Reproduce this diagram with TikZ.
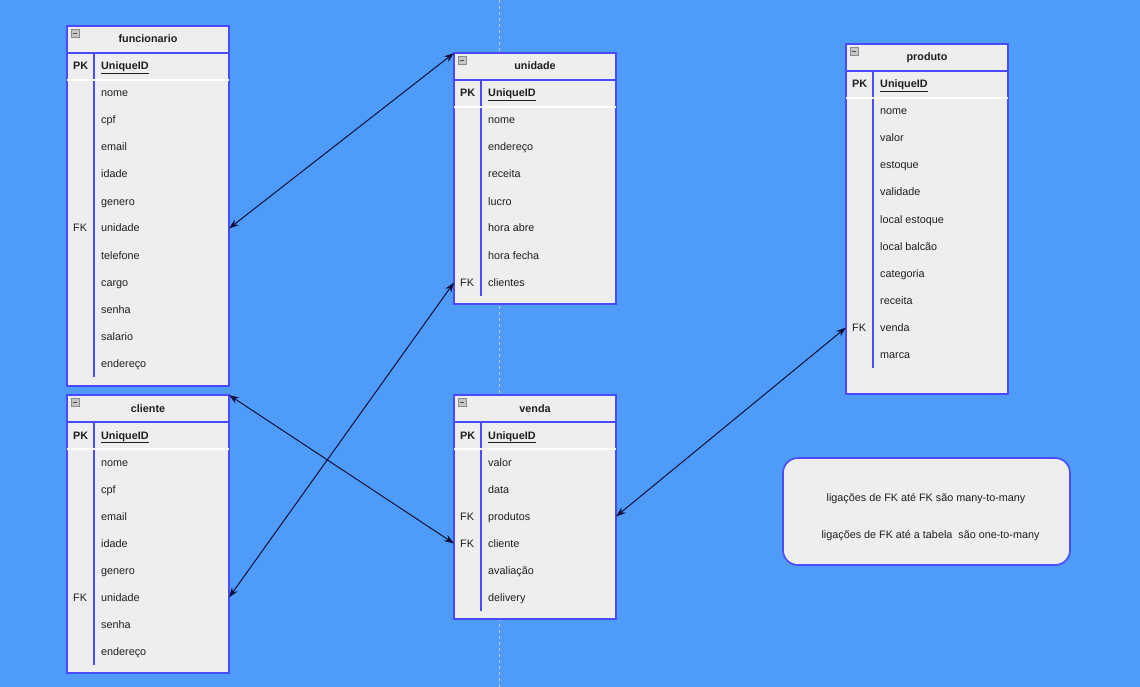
\documentclass[tikz,border=0pt]{standalone}
\usepackage{fontspec}
\setmainfont{Liberation Sans}
\usetikzlibrary{arrows.meta}

\definecolor{canvas}{RGB}{79,155,248}
\definecolor{tablefill}{RGB}{238,238,238}
\definecolor{tableedge}{RGB}{74,74,255}
\definecolor{ink}{RGB}{30,30,30}
\definecolor{linkcol}{RGB}{14,16,60}
\definecolor{guide}{RGB}{185,200,228}

\tikzset{
  tablebox/.style={draw=tableedge, fill=tablefill, line width=1.6pt,
    minimum width=162pt, inner sep=0pt, outer sep=0pt},
  tableline/.style={draw=tableedge, line width=1.5pt},
  sepline/.style={draw=white, line width=1.6pt},
  celltext/.style={inner sep=0pt, text height=9pt, text depth=2pt, text=ink,
    font=\fontsize{10.8}{13}\selectfont},
  titletext/.style={celltext, font=\fontsize{10.8}{13}\selectfont\bfseries},
  link/.style={draw=linkcol, line width=1pt,
    {Stealth[length=10pt,width=7pt]}-{Stealth[length=10pt,width=7pt]}},
  notebox/.style={draw=tableedge, fill=tablefill, line width=1.6pt,
    rounded corners=15pt, minimum width=287pt, minimum height=107pt,
    inner sep=0pt, outer sep=0pt},
}

% ER table: #1 id, #2 left, #3 top, #4 height, #5 title, #6 key/field rows
\newcommand\erTable[6]{%
  \node[tablebox, minimum height=#4pt, anchor=north west] (#1) at (#2,#3) {};
  \draw[draw=gray!90, fill=gray!45, line width=0.8pt]
    ({#2+4},{#3+3.5}) rectangle ({#2+12},{#3+11});
  \draw[ink!80, line width=1pt] ({#2+5.8},{#3+7.3}) -- ({#2+10.2},{#3+7.3});
  \node[titletext] (#1-title) at ({#2+81},{#3+13.5}) {#5};
  \draw[tableline] ({#2},{#3+27}) -- ({#2+162},{#3+27});
  % primary key row
  \node[titletext, anchor=west] (#1-k0) at ({#2+6},{#3+40.5}) {PK};
  \node[titletext, anchor=west] (#1-f0) at ({#2+34},{#3+40.5}) {\underline{UniqueID}};
  \coordinate (#1-w0) at ({#2},{#3+40.5});
  \coordinate (#1-e0) at ({#2+162},{#3+40.5});
  \draw[tableline] ({#2+27},{#3+27}) -- ({#2+27},{#3+54});
  % attribute rows
  \foreach[count=\i] \k/\v in {#6} {
    \pgfmathsetmacro\yc{#3+40.5+27*\i}
    \node[celltext, anchor=west] (#1-k\i) at ({#2+6},\yc) {\k};
    \node[celltext, anchor=west] (#1-f\i) at ({#2+34},\yc) {\v};
    \coordinate (#1-w\i) at ({#2},\yc);
    \coordinate (#1-e\i) at ({#2+162},\yc);
    \draw[tableline] ({#2+27},{\yc-13.5}) -- ({#2+27},{\yc+13.5});
  }
  \draw[sepline] ({#2},{#3+54}) -- ({#2+162},{#3+54});
}

\begin{document}
\begin{tikzpicture}[x=1pt, y=-1pt]
  \useasboundingbox (0,0) rectangle (1140,687);
  \fill[canvas] (0,0) rectangle (1140,687);

  % page guide
  \draw[guide, line width=1pt, dash pattern=on 3pt off 3pt] (499,0) -- (499,687);

  \erTable{fu}{67}{26}{360}{funcionario}{/nome,/cpf,/email,/idade,/genero,FK/unidade,/telefone,/cargo,/senha,/salario,/endereço}
  \erTable{cl}{67}{395}{278}{cliente}{/nome,/cpf,/email,/idade,/genero,FK/unidade,/senha,/endereço}
  \erTable{un}{454}{53}{251}{unidade}{/nome,/endereço,/receita,/lucro,/hora abre,/hora fecha,FK/clientes}
  \erTable{ve}{454}{395}{224}{venda}{/valor,/data,FK/produtos,FK/cliente,/avaliação,/delivery}
  \erTable{pr}{846}{44}{350}{produto}{/nome,/valor,/estoque,/validade,/local estoque,/local balcão,/categoria,/receita,FK/venda,/marca}

  % relationships
  \draw[link] (fu-e6) -- (un.north west);
  \draw[link] (cl-e6) -- (un-w7);
  \draw[link] (cl.north east) -- (ve-w4);
  \draw[link] (ve-e3) -- (pr-w9);

  % legend
  \node[notebox, anchor=north west] (note) at (783,458) {};
  \node[celltext] (note-a) at (926,498) {ligações de FK até FK são many-to-many};
  \node[celltext] (note-b) at (930.5,535) {ligações de FK até a tabela\ \ são one-to-many};
\end{tikzpicture}
\end{document}
